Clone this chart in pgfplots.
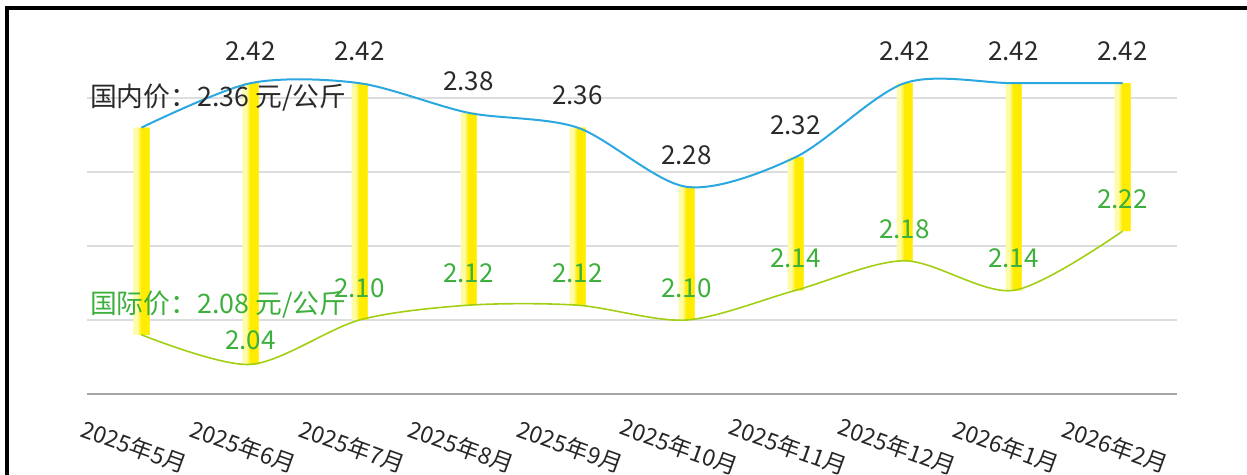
\documentclass[border=0pt]{standalone}
\usepackage{pgfplots}
\pgfplotsset{compat=1.18}
\usepackage{fontspec}
\setmainfont{Noto Sans CJK SC}
\definecolor{dom}{HTML}{2BA8E0}
\definecolor{intl}{HTML}{A2CF14}
\definecolor{intltxt}{HTML}{3DAF3D}
\definecolor{domtxt}{HTML}{2A2A2A}
\definecolor{barA}{HTML}{FFFCA8}
\definecolor{barB}{HTML}{FFF55A}
\definecolor{barC}{HTML}{FFEC00}
\definecolor{gridc}{HTML}{DDDDDD}
\pgfplotsset{common/.style={
  at={(0pt,0pt)}, anchor=south west,
  scale only axis, width=545pt, height=185pt,
  xmin=-0.5, xmax=9.5, ymin=2.0, ymax=2.5, clip=false},
  barlayer/.style={common, hide axis, ybar stacked}}
\pgfplotstableread{
x intl diff
0 2.08 0.28
1 2.04 0.38
2 2.10 0.32
3 2.12 0.26
4 2.12 0.24
5 2.10 0.18
6 2.14 0.18
7 2.18 0.24
8 2.14 0.28
9 2.22 0.20
}\bars
\begin{document}
\begin{tikzpicture}
\useasboundingbox (-43.5pt,-40.5pt) rectangle (580pt,197pt);
% grid, x axis and pale bar layer
\begin{axis}[common,
  ybar stacked, bar width=8pt,
  axis x line*=bottom, axis y line*=left,
  y axis line style={draw=none},
  x axis line style={color=black!35, line width=0.75pt},
  xtick={0,...,9},
  xticklabels={2025年5月,2025年6月,2025年7月,2025年8月,2025年9月,2025年10月,2025年11月,2025年12月,2026年1月,2026年2月},
  xticklabel style={font=\fontsize{11.5pt}{11.5pt}\selectfont, color=black!85, rotate=-20, anchor=center, yshift=-26pt, xshift=5.5pt},
  ytick={2.0,2.1,2.2,2.3,2.4}, yticklabels={},
  major tick length=0pt,
  ymajorgrids, grid style={gridc, line width=0.75pt},
]
\addplot[draw=none, fill=none] table[x=x, y=intl] {\bars};
\addplot[draw=none, fill=barA] table[x=x, y=diff] {\bars};
\end{axis}
% middle bar layer
\begin{axis}[barlayer, bar width=5.5pt]
\addplot[draw=none, fill=none, bar shift=1.25pt] table[x=x, y=intl] {\bars};
\addplot[draw=none, fill=barB, bar shift=1.25pt] table[x=x, y=diff] {\bars};
\end{axis}
% bright bar layer
\begin{axis}[barlayer, bar width=4.5pt]
\addplot[draw=none, fill=none, bar shift=1.75pt] table[x=x, y=intl] {\bars};
\addplot[draw=none, fill=barC, bar shift=1.75pt] table[x=x, y=diff] {\bars};
\end{axis}
% lines and labels
\begin{axis}[common, hide axis]
\addplot[smooth, color=dom, line width=1pt, mark=none] coordinates {
 (0,2.36) (1,2.42) (2,2.42) (3,2.38) (4,2.36) (5,2.28) (6,2.32) (7,2.42) (8,2.42) (9,2.42)};
\addplot[smooth, color=intl, line width=0.8pt, mark=none] coordinates {
 (0,2.08) (1,2.04) (2,2.10) (3,2.12) (4,2.12) (5,2.10) (6,2.14) (7,2.18) (8,2.14) (9,2.22)};
\addplot[only marks, mark=none, point meta=explicit symbolic,
  nodes near coords, nodes near coords style={anchor=center, yshift=16pt, color=domtxt, font=\fontsize{13pt}{13pt}\selectfont}] coordinates {
 (1,2.42) [2.42] (2,2.42) [2.42] (3,2.38) [2.38] (4,2.36) [2.36] (5,2.28) [2.28] (6,2.32) [2.32] (7,2.42) [2.42] (8,2.42) [2.42] (9,2.42) [2.42]};
\addplot[only marks, mark=none, point meta=explicit symbolic,
  nodes near coords, nodes near coords style={anchor=center, yshift=16pt, color=intltxt, font=\fontsize{13pt}{13pt}\selectfont}] coordinates {
 (2,2.10) [2.10] (3,2.12) [2.12] (4,2.12) [2.12] (5,2.10) [2.10] (6,2.14) [2.14] (7,2.18) [2.18] (8,2.14) [2.14] (9,2.22) [2.22]};
\addplot[only marks, mark=none, point meta=explicit symbolic,
  nodes near coords, nodes near coords style={anchor=center, yshift=12pt, color=intltxt, font=\fontsize{13pt}{13pt}\selectfont}] coordinates {
 (1,2.04) [2.04]};
\node[anchor=west, color=domtxt, font=\fontsize{13.4pt}{13.4pt}\selectfont, inner sep=0pt] at (axis cs:-0.475,2.40) {国内价：2.36 元/公斤};
\node[anchor=west, color=intltxt, font=\fontsize{13.4pt}{13.4pt}\selectfont, inner sep=0pt] at (axis cs:-0.475,2.121) {国际价：2.08 元/公斤};
\end{axis}
\draw[line width=2pt, black] (-40pt,-41pt) -- (-40pt,193pt) -- (581pt,193pt);
\end{tikzpicture}
\end{document}
